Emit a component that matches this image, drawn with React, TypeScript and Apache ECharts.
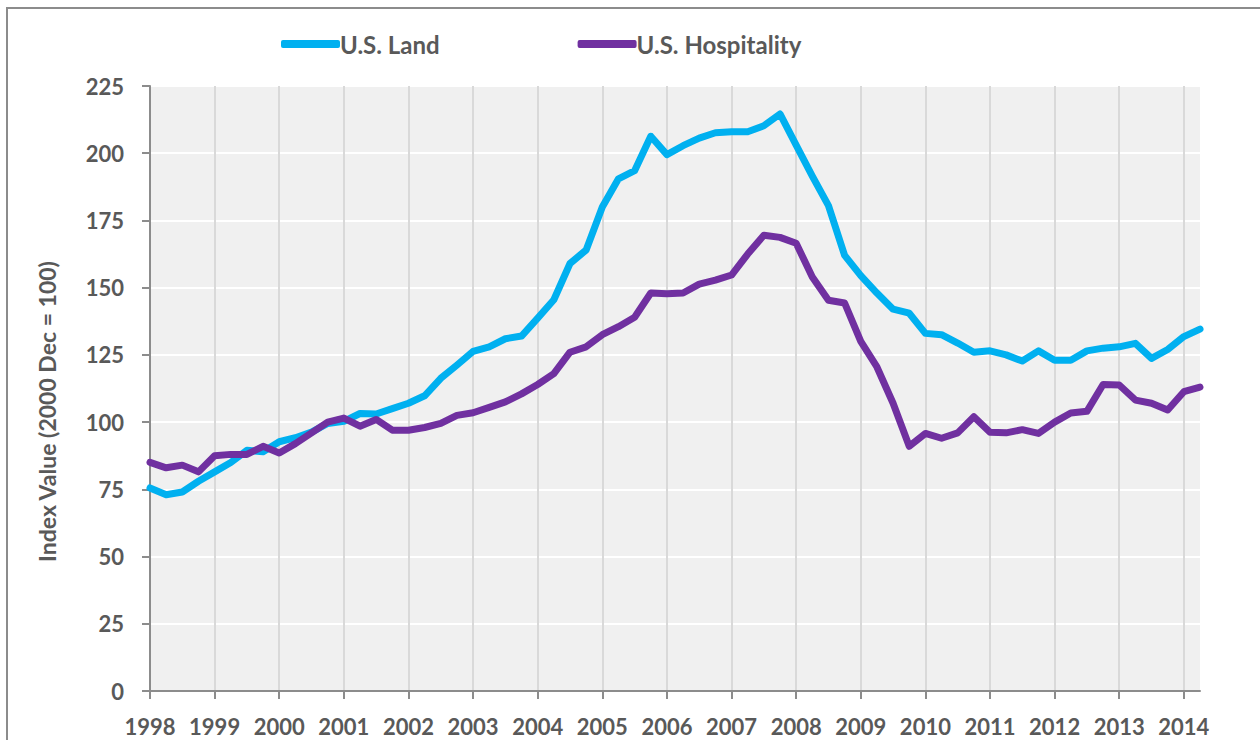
import React, { useEffect, useRef } from "react";
import * as echarts from "echarts";

const years = [
  "1998", "1999", "2000", "2001", "2002", "2003", "2004", "2005", "2006",
  "2007", "2008", "2009", "2010", "2011", "2012", "2013", "2014",
];
const quarterLabels = ["Q1", "Q2", "Q3", "Q4"];

const landValues = [
  75.5, 73, 74, 78, 81.5, 85, 89.5, 89, 92.7, 94.2, 96.3, 99.5, 100.3, 103.2,
  103, 105, 107, 109.8, 116.3, 121.2, 126.3, 128, 131, 132, 138.7, 145.5, 159,
  164, 180, 190.5, 193.5, 206.3, 199.5, 202.8, 205.6, 207.6, 208, 208, 210.2,
  214.6, 203, 191.5, 180.5, 162, 154.5, 148, 142, 140.5, 133, 132.5, 129.4,
  126, 126.5, 125, 122.7, 126.5, 123, 123, 126.5, 127.5, 128, 129.3, 123.7,
  127, 131.8, 134.6,
];

const hospitalityValues = [
  85, 83, 84, 81.5, 87.5, 88, 88, 91, 88.5, 92, 96, 100, 101.5, 98.5, 101, 97,
  97, 98, 99.5, 102.5, 103.5, 105.5, 107.5, 110.5, 114, 118, 126, 128, 132.5,
  135.5, 139, 148, 147.7, 148, 151.3, 152.8, 154.7, 162.5, 169.5, 168.7, 166.5,
  154, 145.3, 144.3, 130, 120.5, 107, 91, 95.8, 94, 96, 102, 96.2, 96, 97.2,
  95.8, 100, 103.4, 104, 114, 113.8, 108.2, 107, 104.5, 111.3, 113,
];

const seriesNames = ["U.S. Land", "U.S. Hospitality"];
const yAxisTitle = "Index Value (2000 Dec = 100)";

const categories: string[] = [];
years.forEach((y) => quarterLabels.forEach((q) => categories.push(`${y} ${q}`)));
const xCategories = categories.slice(0, landValues.length);

const FONT = "Lato";
const TEXT_COLOR = "#595959";

export default function App() {
  const ref = useRef<HTMLDivElement>(null);
  useEffect(() => {
    if (!ref.current) return;
    const chart = echarts.init(ref.current, null, { renderer: "svg" });
    chart.setOption({
      animation: false,
      backgroundColor: "#ffffff",
      textStyle: { fontFamily: FONT },
      graphic: [
        {
          type: "rect",
          shape: { x: 7, y: 8, width: 1300, height: 800 },
          style: { fill: "none", stroke: "#8c8c8c", lineWidth: 2 },
          silent: true,
        },
      ],
      legend: {
        left: 276,
        top: 27,
        itemWidth: 59,
        itemHeight: 8,
        itemGap: 138,
        icon: "roundRect",
        textStyle: {
          fontFamily: FONT,
          fontWeight: "bold",
          fontSize: 24,
          color: TEXT_COLOR,
          padding: [0, 0, 0, -5],
        },
        data: seriesNames,
      },
      grid: {
        left: 150,
        right: 60,
        top: 86,
        bottom: 49,
        show: true,
        backgroundColor: "#f0f0f0",
        borderWidth: 0,
      },
      xAxis: {
        type: "category",
        data: xCategories,
        boundaryGap: false,
        axisLine: { show: true, lineStyle: { color: "#8c8c8c", width: 2 } },
        axisTick: {
          show: true,
          interval: 3,
          length: 8,
          lineStyle: { color: "#8c8c8c", width: 2 },
        },
        axisLabel: {
          interval: 3,
          margin: 24,
          formatter: (v: string) => v.slice(0, 4),
          fontFamily: FONT,
          fontWeight: "bold",
          fontSize: 22,
          color: TEXT_COLOR,
        },
        splitLine: {
          show: true,
          interval: 3,
          lineStyle: { color: "#d9d9d9", width: 2 },
        },
      },
      yAxis: {
        type: "value",
        min: 0,
        max: 225,
        interval: 25,
        name: yAxisTitle,
        nameLocation: "middle",
        nameGap: 92,
        nameTextStyle: {
          fontFamily: FONT,
          fontWeight: "bold",
          fontSize: 23,
          color: TEXT_COLOR,
          padding: [0, 46, 0, 0],
        },
        axisLine: { show: true, lineStyle: { color: "#8c8c8c", width: 2 } },
        axisTick: { show: true, length: 8, lineStyle: { color: "#8c8c8c", width: 2 } },
        axisLabel: {
          margin: 26,
          fontFamily: FONT,
          fontWeight: "bold",
          fontSize: 22,
          color: TEXT_COLOR,
        },
        splitLine: { show: true, lineStyle: { color: "#ffffff", width: 2 } },
      },
      series: [
        {
          name: seriesNames[0],
          type: "line",
          data: landValues,
          showSymbol: false,
          symbol: "none",
          lineStyle: { color: "#00b0f0", width: 7, cap: "round", join: "round" },
          itemStyle: { color: "#00b0f0" },
          z: 3,
        },
        {
          name: seriesNames[1],
          type: "line",
          data: hospitalityValues,
          showSymbol: false,
          symbol: "none",
          lineStyle: { color: "#7030a0", width: 7, cap: "round", join: "round" },
          itemStyle: { color: "#7030a0" },
          z: 4,
        },
      ],
    });
    return () => chart.dispose();
  }, []);
  return (
    <div
      ref={ref}
      style={{ position: "absolute", left: 0, top: 0, width: 1260, height: 740 }}
    />
  );
}
